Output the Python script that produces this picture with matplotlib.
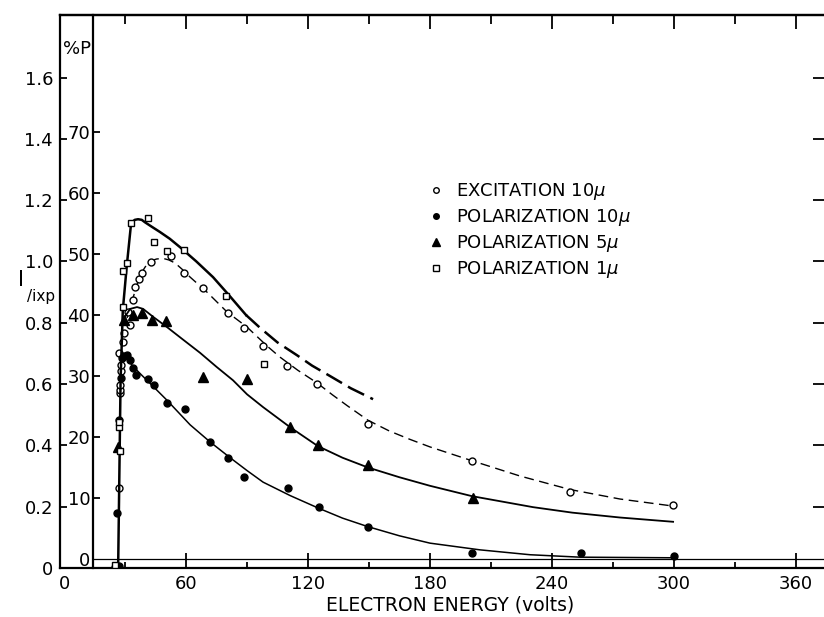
import matplotlib
matplotlib.use("Agg")
import matplotlib.pyplot as plt
from matplotlib.lines import Line2D

plt.rcParams['font.family'] = ['DejaVu Sans']
plt.rcParams['mathtext.fontset'] = 'dejavusans'
plt.rcParams['lines.scale_dashes'] = False

W, H = 824, 617

# measured points: electron energy (volts)
exc_v = [25.1, 27.1, 27.5, 27.5, 27.5, 28.0, 28.0, 27.1, 29.0, 29.5, 32.5, 31.5, 33.9, 34.9,
         36.9, 38.4, 42.8, 52.6, 59.0, 68.4, 80.7, 88.5, 97.9, 109.7, 124.4, 149.5, 200.7,
         248.9, 299.6]
exc_i = [0.003, 0.261, 0.571, 0.581, 0.597, 0.643, 0.662, 0.701, 0.737, 0.767, 0.793, 0.835,
         0.874, 0.917, 0.943, 0.962, 0.998, 1.018, 0.962, 0.914, 0.832, 0.783, 0.724, 0.659,
         0.600, 0.470, 0.349, 0.248, 0.206]

pol10_v = [27.1, 26.1, 27.1, 28.0, 28.5, 29.5, 31.0, 32.5, 33.9, 35.4, 41.3, 44.3, 50.7, 59.5,
           71.8, 80.7, 88.5, 110.2, 125.4, 149.5, 200.7, 254.3, 300.0]
pol10_p = [-1.1, 7.5, 22.8, 29.7, 33.0, 33.3, 33.4, 32.6, 31.3, 30.2, 29.5, 28.5, 25.6, 24.6,
           19.2, 16.6, 13.4, 11.6, 8.5, 5.2, 1.0, 1.0, 0.5]

pol5_v = [26.6, 29.5, 33.9, 38.4, 43.3, 50.2, 68.4, 90.0, 111.2, 124.9, 149.5, 201.2]
pol5_p = [18.4, 39.2, 40.0, 40.3, 39.2, 39.0, 29.8, 29.5, 21.6, 18.7, 15.4, 10.0]

pol1_v = [25.1, 27.5, 27.1, 27.1, 29.0, 29.0, 31.0, 33.0, 41.3, 44.3, 50.7, 59.0, 79.7, 98.4]
pol1_p = [-1.0, 17.7, 21.6, 22.5, 41.3, 47.2, 48.5, 55.1, 55.9, 52.0, 50.5, 50.7, 43.1, 32.0]

# drawn curves
c1_v = [26.6, 27.8, 28.9, 30.8, 33.0, 34.8, 36.4, 38.2, 39.8, 43.0, 47.2, 52.0, 57.1, 65.0,
        73.3, 81.0, 89.5]
c1_p = [-1.5, 29.3, 40.8, 47.9, 55.1, 55.6, 55.7, 55.6, 55.2, 54.5, 53.6, 52.5, 51.1, 48.8,
        46.2, 43.3, 40.0]
c1x_v = [89.5, 96.4, 105.0, 114.6, 122.0, 130.8, 141.0, 152.0]
c1x_p = [40.0, 37.9, 35.5, 33.4, 31.7, 30.0, 28.0, 26.2]

cexc_v = [31.0, 33.9, 37.4, 40.0, 42.8, 45.5, 48.7, 51.5, 54.6, 58.0, 62.0, 70.3, 80.2, 90.0,
          99.9, 106.2, 115.0, 124.4, 132.0, 139.2, 149.5, 160.0, 170.0, 180.0, 199.7, 224.3,
          248.9, 273.5, 299.6]
cexc_i = [0.816, 0.881, 0.956, 0.983, 1.002, 1.008, 1.010, 1.005, 0.995, 0.975, 0.949, 0.900,
          0.835, 0.786, 0.724, 0.688, 0.645, 0.604, 0.565, 0.530, 0.482, 0.447, 0.420, 0.395,
          0.352, 0.300, 0.256, 0.225, 0.202]

c5_v = [29.5, 32.5, 35.9, 38.9, 43.8, 50.7, 58.0, 66.9, 75.0, 83.1, 90.0, 97.9, 111.2, 124.9,
        137.0, 149.5, 165.0, 180.0, 200.7, 230.7, 250.0, 273.5, 299.6]
c5_p = [39.5, 41.0, 41.3, 41.0, 39.7, 38.0, 36.1, 33.8, 31.5, 29.3, 27.0, 24.9, 21.6, 18.5,
        16.6, 15.0, 13.4, 12.0, 10.3, 8.5, 7.6, 6.8, 6.1]

c10_v = [28.5, 31.0, 33.9, 38.0, 42.3, 50.7, 62.0, 71.8, 81.7, 90.0, 97.9, 111.2, 125.4,
         137.0, 149.5, 165.0, 180.0, 204.6, 229.2, 253.8, 299.6]
c10_p = [33.9, 32.8, 31.6, 30.2, 28.8, 26.0, 22.0, 19.2, 16.6, 14.5, 12.6, 10.4, 8.3, 6.7,
         5.3, 3.8, 2.6, 1.5, 0.7, 0.3, 0.2]

legend_labels = [r'EXCITATION 10$\mu$', r'POLARIZATION 10$\mu$',
                 r'POLARIZATION 5$\mu$', r'POLARIZATION 1$\mu$']

i_ticks = [0, 0.2, 0.4, 0.6, 0.8, 1.0, 1.2, 1.4, 1.6]
i_labels = ['0', '0.2', '0.4', '0.6', '0.8', '1.0', '1.2', '1.4', '1.6']
p_ticks = [0, 10, 20, 30, 40, 50, 60, 70]
x_ticks = [0, 60, 120, 180, 240, 300, 360]


def fx(px):
    return px / W


def fy(py):
    return 1 - py / H


fig = plt.figure(figsize=(W / 100, H / 100), dpi=100)
left, right, top, bottom = 60, 828, 15, 568
ax = fig.add_axes([fx(left), fy(bottom), fx(right - left), (bottom - top) / H])
ax.set_xlim(-2.0, 375.8)
ax.set_ylim(0, 1.804)

for s in ['left', 'top', 'bottom', 'right']:
    ax.spines[s].set_linewidth(1.6)

ax.set_xticks(x_ticks)
ax.set_xticks(range(30, 376, 60), minor=True)
ax.set_yticks(i_ticks)
ax.set_yticklabels(i_labels)
ax.tick_params(axis='x', which='major', direction='in', length=11, width=1.3, pad=5, labelsize=13)
ax.tick_params(axis='x', which='minor', direction='in', length=4, width=1.3)
ax.tick_params(axis='y', direction='in', length=5, width=1.3, pad=5, labelsize=13)
ax.xaxis.get_major_ticks()[0].tick1line.set_visible(False)
ax.yaxis.get_major_ticks()[0].tick1line.set_visible(False)
ax.set_xlabel('ELECTRON ENERGY (volts)', fontsize=13.5)
ax.xaxis.label.set_verticalalignment('center')
ax.xaxis.set_label_coords(0.508, -(605 - bottom) / (bottom - top))

top_ax = ax.secondary_xaxis('top')
top_ax.set_xticks(range(60, 376, 60))
top_ax.set_xticks(range(30, 376, 60), minor=True)
top_ax.tick_params(which='major', direction='in', length=10, width=1.3, labeltop=False)
top_ax.tick_params(which='minor', direction='in', length=6.5, width=1.3)
top_ax.spines['top'].set_linewidth(1.6)

right_ax = ax.secondary_yaxis('right')
right_ax.set_yticks(i_ticks[1:])
right_ax.tick_params(direction='in', length=11, width=1.3, labelright=False)

# %P scale on the inner vertical line
ax2 = ax.twinx()
ax2.set_ylim(-1.475, 89.18)
inner_x = (93 - 64) / 2.033
ax2.spines['left'].set_position(('data', inner_x))
ax2.spines['left'].set_visible(True)
ax2.spines['left'].set_linewidth(1.6)
for s in ['right', 'top', 'bottom']:
    ax2.spines[s].set_visible(False)
ax2.yaxis.set_ticks_position('left')
ax2.set_yticks(p_ticks)
ax2.tick_params(axis='y', direction='in', length=5, width=1.3, pad=2, labelsize=13)
ax2.yaxis.get_major_ticks()[0].tick1line.set_visible(False)
ax2.axhline(0, xmin=(93 - left) / (right - left), color='black', lw=0.9)

# curves
ax2.plot(c1_v, c1_p, color='black', lw=1.8)
ax2.plot(c1x_v, c1x_p, color='black', lw=1.8, dashes=(13, 5))
ax.plot(cexc_v, cexc_i, color='black', lw=1.0, dashes=(7, 4))
ax2.plot(c5_v, c5_p, color='black', lw=1.3)
ax2.plot(c10_v, c10_p, color='black', lw=1.1)

# points
ax.plot(exc_v, exc_i, 'o', ms=5, mfc='white', mec='black', mew=1.0, ls='none')
ax2.plot(pol10_v, pol10_p, 'o', ms=5, color='black', ls='none')
ax2.plot(pol5_v, pol5_p, '^', ms=7.5, color='black', ls='none')
ax2.plot(pol1_v, pol1_p, 's', ms=5, mfc='white', mec='black', mew=1.0, ls='none')

handles = [Line2D([], [], marker='o', ms=4, mfc='white', mec='black', mew=1.0, ls='none'),
           Line2D([], [], marker='o', ms=4, color='black', ls='none'),
           Line2D([], [], marker='^', ms=5.5, color='black', ls='none'),
           Line2D([], [], marker='s', ms=4, mfc='white', mec='black', mew=1.0, ls='none')]
ax2.legend(handles, legend_labels, loc='upper left', bbox_to_anchor=(fx(427), fy(181)),
           bbox_transform=fig.transFigure, frameon=False, fontsize=13, handlelength=1.0,
           handletextpad=0.6, labelspacing=0.28, borderpad=0, borderaxespad=0)

fig.text(fx(77), fy(49), '%P', fontsize=13, ha='center', va='center')
fig.text(fx(21), fy(280), 'I', fontsize=15, ha='center', va='center')
fig.text(fx(27), fy(296), '/ixp', fontsize=11, ha='left', va='center')

fig.savefig('out.png', dpi=100)
